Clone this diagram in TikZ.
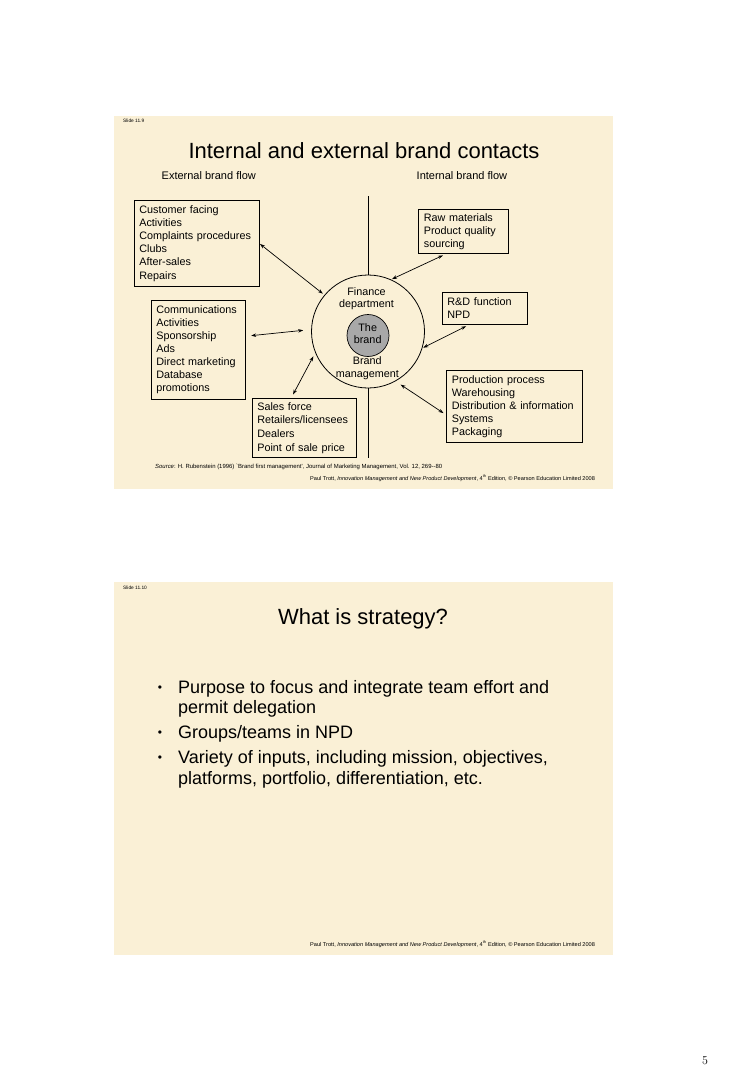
\documentclass[tikz,border=0pt]{standalone}
\usepackage{fontspec}
\newfontfamily\arial{Liberation Sans}
\usetikzlibrary{arrows.meta}
\definecolor{slidebg}{RGB}{250,240,214}
\definecolor{brandgray}{RGB}{168,168,168}
\tikzset{
  slidebox/.style={fill=slidebg, draw=none},
  box/.style={draw, line width=0.7pt, align=left, anchor=north west, inner xsep=5.5pt, inner ysep=0pt,
    font=\arial\fontsize{10.8}{13.2}\selectfont},
  lbl/.style={inner sep=0pt, anchor=base, font=\arial\fontsize{10.8}{13}\selectfont},
  flowlbl/.style={inner sep=0pt, anchor=base west, font=\arial\fontsize{11}{13}\selectfont},
  link/.style={line width=0.7pt, {Stealth[length=5pt,width=3.5pt]}-{Stealth[length=5pt,width=3.5pt]}},
  tinylbl/.style={inner sep=0pt, anchor=base west, font=\arial\fontsize{4.8}{5}\selectfont},
  footlbl/.style={inner sep=0pt, anchor=base west, font=\arial\fontsize{5.6}{6}\selectfont},
  srclbl/.style={inner sep=0pt, anchor=base west, font=\arial\fontsize{5.95}{6}\selectfont},
  titlelbl/.style={inner sep=0pt, anchor=base, font=\arial\fontsize{22}{26}\selectfont},
  bulletlbl/.style={inner sep=0pt, anchor=base west, font=\arial\fontsize{18}{20}\selectfont},
  dotlbl/.style={inner sep=0pt, anchor=base, font=\arial\fontsize{12}{14}\selectfont},
}
\begin{document}
\begin{tikzpicture}[x=1pt,y=-1pt]
\fill[white] (0,0) rectangle (728,1073);
\useasboundingbox (0,0) rectangle (728,1073);

% ---------- Slide 11.9 ----------
\fill[slidebox] (114,116) rectangle (613,489);
\node[tinylbl] (s1no) at (123,122.7) {Slide 11.9};
\node[titlelbl] (t1) at (364,158) {Internal and external brand contacts};
\node[flowlbl] (ext) at (161.5,179) {External brand flow};
\node[flowlbl] (int) at (416.5,179) {Internal brand flow};

% central circles
\node[circle, draw, line width=0.8pt, minimum size=113pt, inner sep=0pt] (outer) at (368,331.5) {};
\node[circle, draw, line width=0.7pt, fill=brandgray, minimum size=42pt, inner sep=0pt] (inner) at (368,335.5) {};
\node[lbl] (fin1) at (366.5,295) {Finance};
\node[lbl] (fin2) at (366.5,307.8) {department};
\node[lbl] (the) at (367.7,331.5) {The};
\node[lbl] (brd) at (367.7,343.5) {brand};
\node[lbl] (bm1) at (367.3,364.5) {Brand};
\node[lbl] (bm2) at (367.3,377) {management};

% vertical axis
\coordinate (vtop) at (368,196);
\coordinate (vbot) at (368,458);
\draw[line width=0.7pt] (vtop) -- (outer.north);
\draw[line width=0.7pt] (outer.south) -- (vbot);

% boxes
\node[box, text width=114pt, minimum height=86pt] (cust) at (133.5,200)
  {Customer facing\\Activities\\Complaints procedures\\Clubs\\After-sales\\Repairs};
\node[box, text width=79pt, minimum height=44pt, font=\arial\fontsize{10.8}{12.9}\selectfont] (raw) at (418,209)
  {Raw materials\\Product quality\\sourcing};
\node[box, text width=74pt, minimum height=32pt, font=\arial\fontsize{10.8}{12.7}\selectfont] (rd) at (441.5,291.5)
  {R\&D function\\NPD};
\node[box, text width=83pt, minimum height=99pt, font=\arial\fontsize{10.8}{12.95}\selectfont] (comm) at (150.5,300)
  {Communications\\Activities\\Sponsorship\\Ads\\Direct marketing\\Database\\promotions};
\node[box, text width=93pt, minimum height=59pt, font=\arial\fontsize{10.8}{13.6}\selectfont] (sales) at (251.5,398)
  {Sales force\\Retailers/licensees\\Dealers\\Point of sale price};
\node[box, text width=125pt, minimum height=72pt, font=\arial\fontsize{10.8}{13}\selectfont] (prod) at (446,370)
  {Production process\\Warehousing\\Distribution \& information\\Systems\\Packaging};

% connectors
\draw[link, shorten <=1pt, shorten >=2pt] (cust.east) -- (outer.140);
\draw[link, shorten <=4pt, shorten >=1pt] (raw.233) -- (outer.66);
\draw[link, shorten <=4.5pt, shorten >=1pt] (rd.229) -- (outer.-17);
\draw[link, shorten <=6pt, shorten >=8pt] (comm.16) -- (outer.178);
\draw[link, shorten <=4pt, shorten >=4pt] (sales.113) -- (outer.202);
\draw[link, shorten <=3pt, shorten >=6pt] (prod.187) -- (outer.-61);

% source and footer
\node[srclbl] (src) at (155,468.3) {\textit{Source}: H. Rubenstein (1996) `Brand first management', Journal of Marketing Management, Vol. 12, 269--80};
\node[footlbl] (foot1) at (310,480) {Paul Trott, \textit{Innovation Management and New Product Development}, 4\textsuperscript{th} Edition, \textcopyright{} Pearson Education Limited 2008};

% ---------- Slide 11.10 ----------
\fill[slidebox] (114,582) rectangle (613,955);
\node[tinylbl] (s2no) at (123,589.3) {Slide 11.10};
\node[titlelbl] (t2) at (363,624.3) {What is strategy?};

\node[dotlbl] (d1) at (160,691.5) {•};
\node[bulletlbl] (b1a) at (178,693.3) {Purpose to focus and integrate team effort and};
\node[bulletlbl] (b1b) at (178,713.3) {permit delegation};
\node[dotlbl] (d2) at (160,736.5) {•};
\node[bulletlbl] (b2a) at (178,738.3) {Groups/teams in NPD};
\node[dotlbl] (d3) at (160,761.5) {•};
\node[bulletlbl] (b3a) at (178,763.3) {Variety of inputs, including mission, objectives,};
\node[bulletlbl] (b3b) at (178,784) {platforms, portfolio, differentiation, etc.};

\node[footlbl] (foot2) at (310,946.5) {Paul Trott, \textit{Innovation Management and New Product Development}, 4\textsuperscript{th} Edition, \textcopyright{} Pearson Education Limited 2008};

% page number
\node[inner sep=0pt, anchor=base, font=\fontsize{12}{14}\selectfont] (pg) at (705,1064) {5};
\end{tikzpicture}
\end{document}
